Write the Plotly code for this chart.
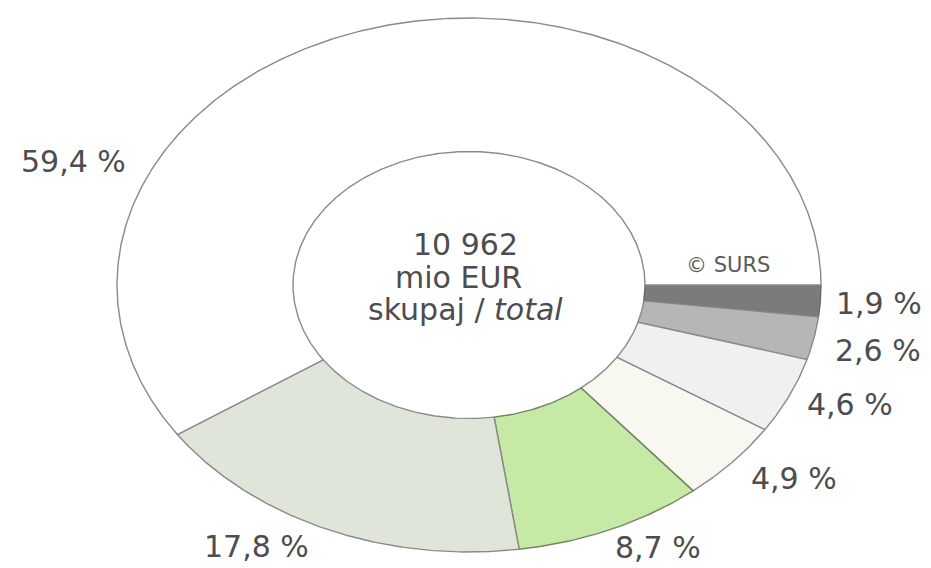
import numpy as np
import plotly.graph_objects as go

# ---- data ----
categories = ["A", "B", "C", "D", "E", "F", "G"]
shares = [1.9, 2.6, 4.6, 4.9, 8.7, 17.8, 59.4]
labels = ["1,9 %", "2,6 %", "4,6 %", "4,9 %", "8,7 %", "17,8 %", "59,4 %"]
center_lines = ["10 962", "mio EUR", "skupaj / <i>total</i>"]
credit = "© SURS"

# ---- styles ----
colors = ["#7b7b7b", "#b6b6b6", "#f0f0f0", "#f8f8f1", "#c6eaa6", "#dfe5d8", "#ffffff"]
line_colors = ["#6a6a6a", "#8a8a8a", "#8a8a8a", "#8a8a8a", "#6f8563", "#8a8a8a", "#8a8a8a"]
hole = 0.5
W, H = 931, 568
# label positions in pixels (layout only)
label_pos = [(879, 303), (878, 350), (850, 404), (794, 478), (658, 547), (256, 546), (73, 161)]
center_pos = [(465, 244), (458, 277), (465, 309)]
credit_pos = (728, 265)

fig = go.Figure()
total = sum(shares)
cum = np.concatenate([[0], np.cumsum(shares)]) / total * 2 * np.pi
for i, cat in enumerate(categories):
    a0, a1 = cum[i], cum[i + 1]
    t = np.linspace(a0, a1, max(int((a1 - a0) * 120), 8))
    xo, yo = np.cos(t), -np.sin(t)
    xi, yi = hole * np.cos(t[::-1]), -hole * np.sin(t[::-1])
    xs = np.concatenate([xo, xi, xo[:1]])
    ys = np.concatenate([yo, yi, yo[:1]])
    fig.add_trace(go.Scatter(
        x=xs, y=ys, mode="lines", fill="toself", fillcolor=colors[i],
        line=dict(color=line_colors[i], width=1.4), name=labels[i],
        hoverinfo="name", showlegend=False))

font_main = dict(family="DejaVu Sans", size=30, color="#4d4d4d")
ann = []
for lab, (px, py) in zip(labels, label_pos):
    ann.append(dict(x=px / W, y=1 - py / H, xref="paper", yref="paper", text=lab,
                    showarrow=False, font=font_main, xanchor="center", yanchor="middle"))
for line, (px, py) in zip(center_lines, center_pos):
    ann.append(dict(x=px / W, y=1 - py / H, xref="paper", yref="paper", text=line,
                    showarrow=False, font=font_main, xanchor="center", yanchor="middle"))
ann.append(dict(x=credit_pos[0] / W, y=1 - credit_pos[1] / H, xref="paper", yref="paper",
                text=credit, showarrow=False,
                font=dict(family="DejaVu Sans", size=21, color="#5a5a5a"),
                xanchor="center", yanchor="middle"))

cx, cy, rx, ry = 469, 285, 352, 267
fig.update_layout(
    width=W, height=H, margin=dict(l=0, r=0, t=0, b=0),
    paper_bgcolor="white", plot_bgcolor="white",
    xaxis=dict(range=[-cx / rx, (W - cx) / rx], visible=False, fixedrange=True),
    yaxis=dict(range=[(cy - H) / ry, cy / ry], visible=False, fixedrange=True),
    annotations=ann, showlegend=False,
)
fig.write_html("out.html", config={"displayModeBar": False},
               post_script="document.body.style.margin='0';document.body.style.overflow='hidden';")
